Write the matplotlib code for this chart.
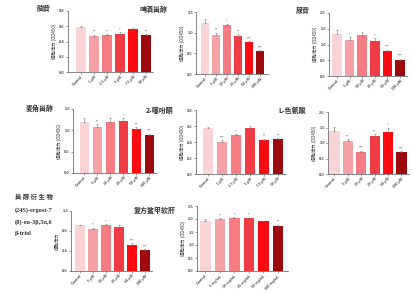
import matplotlib
matplotlib.use("Agg")
import matplotlib.pyplot as plt

plt.rcParams['font.family'] = ['Liberation Sans', 'Noto Sans CJK SC', 'DejaVu Sans']

W, H = 414, 294

# ---------------- data ----------------
cats_a = ["Control", "1 μM", "2.5 μM", "5 μM", "7.5 μM", "10 μM"]
cats_b = ["Control", "5 μM", "10 μM", "25 μM", "50 μM", "100 μM"]
cats_c = ["Control", "5 mg/mL", "10 mg/mL", "25 mg/mL", "50 mg/mL", "100 mg/mL"]

titles = ["脑苷", "啤酒甾醇", "尿苷", "麦角甾醇", "2-噻吩酮", "L-色氨酸",
          "", "复方鳖甲软肝"]

v1 = [0.59, 0.47, 0.48, 0.50, 0.57, 0.48]
v2 = [1.24, 0.95, 1.18, 0.92, 0.77, 0.55]
v3 = [1.32, 1.15, 1.31, 1.12, 0.80, 0.52]
v4 = [1.20, 1.08, 1.20, 1.21, 1.03, 0.88]
v5 = [0.58, 0.40, 0.49, 0.58, 0.43, 0.44]
v6 = [1.38, 1.07, 0.70, 1.22, 1.37, 0.70]
v7 = [0.92, 0.85, 0.93, 0.88, 0.53, 0.42]
v8 = [1.93, 2.00, 2.05, 2.02, 1.93, 1.72]

e1 = [0.01, 0.02, 0.02, 0.02, 0.01, 0.02]
e2 = [0.10, 0.05, 0.04, 0.05, 0.03, 0.03]
e3 = [0.15, 0.08, 0.10, 0.08, 0.04, 0.03]
e4 = [0.10, 0.06, 0.10, 0.08, 0.05, 0.04]
e5 = [0.01, 0.02, 0.01, 0.02, 0.01, 0.01]
e6 = [0.15, 0.06, 0.05, 0.06, 0.12, 0.03]
e7 = [0.01, 0.02, 0.01, 0.05, 0.03, 0.02]
e8 = [0.07, 0.03, 0.02, 0.03, 0.01, 0.06]

s1 = ["", "**", "*", "*", "", "**"]
s2 = ["", "**", "*", "**", "***", "***"]
s3 = ["", "*", "", "*", "***", "***"]
s4 = ["", "**", "", "*", "**", "***"]
s5 = ["", "***", "*", "", "**", "**"]
s6 = ["", "**", "***", "**", "*", "***"]
s7 = ["", "*", "*", "", "***", "***"]
s8 = ["", "*", "*", "*", "", "**"]

yticks1 = [0.0, 0.2, 0.4, 0.6, 0.8]
yticks2 = [0.0, 0.5, 1.0, 1.5]
yticks3 = [0.0, 0.5, 1.0, 1.5, 2.0]
yticks7 = [0.0, 0.4, 0.8, 1.2]
yticks8 = [0.0, 0.5, 1.0, 1.5, 2.0, 2.5]

ylabel_full = "细胞活力 (OD450)"
ylabel_short = "细胞活力"

colors = ["#fad3d6", "#f6a1a5", "#f47c82", "#f03c45", "#fb0a12", "#9c0a0e"]

panels = [
    (cats_a, v1, e1, s1, yticks1, ylabel_full),
    (cats_b, v2, e2, s2, yticks2, ylabel_full),
    (cats_b, v3, e3, s3, yticks3, ylabel_full),
    (cats_b, v4, e4, s4, yticks2, ylabel_full),
    (cats_a, v5, e5, s5, yticks1, ylabel_full),
    (cats_b, v6, e6, s6, yticks3, ylabel_full),
    (cats_b, v7, e7, s7, yticks7, ylabel_short),
    (cats_c, v8, e8, s8, yticks8, ylabel_full),
]

# layout in pixels: left, top, right, bottom, first bar centre, slot
layout = [
    (68, 11, 153, 72, 81, 13),
    (196, 12, 268, 74, 205, 11),
    (329, 13, 407, 76, 337, 12.6),
    (73, 109, 156, 173, 84.5, 13),
    (196, 110, 286, 174, 208, 14),
    (328, 112, 409, 174, 334.5, 13.4),
    (71, 211, 152, 271, 80, 13),
    (197, 206, 288, 271, 205.5, 14.5),
]
title_pos = [(44, 8), (154, 9), (303, 11), (40, 108), (160, 110), (292, 110),
             None, (155, 210)]

fig = plt.figure(figsize=(W / 100, H / 100), dpi=100)
fig.patch.set_facecolor("white")

cjk = ['Noto Sans CJK SC', 'DejaVu Sans']
for (cats, vals, errs, stars, yt, ylab), (l, t, r, b, fc, slot), tp, title in zip(
        panels, layout, title_pos, titles):
    ax = fig.add_axes([l / W, 1 - b / H, (r - l) / W, (b - t) / H])
    x = list(range(len(cats)))
    ax.bar(x, vals, width=0.75, color=colors, zorder=2)
    ax.errorbar(x, vals, yerr=[[0] * len(errs), errs], fmt='none',
                ecolor='#777777', elinewidth=0.4, capsize=0.8, capthick=0.4, zorder=3)
    top = yt[-1]
    for xi, v, e, s in zip(x, vals, errs, stars):
        if s:
            ax.text(xi, v + e + top * 0.01, s, ha='center', va='bottom',
                    fontsize=2.8, color='#555555')
    ax.set_xlim(-(fc - l) / slot, (r - fc) / slot)
    ax.set_ylim(0, top)
    ax.set_yticks(yt)
    ax.set_yticklabels([f"{v:.1f}" for v in yt], fontsize=2.9, fontweight='bold',
                       color='#444444')
    ax.set_xticks(x)
    ax.set_xticklabels(cats, rotation=45, ha='right', rotation_mode='anchor',
                       fontsize=2.7, fontweight='bold', color='#444444',
                       family=['Liberation Sans', 'DejaVu Sans'])
    for sp in ['top', 'right']:
        ax.spines[sp].set_visible(False)
    for sp in ['left', 'bottom']:
        ax.spines[sp].set_linewidth(0.5)
        ax.spines[sp].set_color('#555555')
    ax.tick_params(length=1.2, width=0.4, pad=1, colors='#555555')
    ax.set_ylabel(ylab, fontsize=3.2, family=cjk, color='#333333', labelpad=1.5)
    if tp is not None:
        fig.text(tp[0] / W, 1 - tp[1] / H, title, ha='center', va='center',
                 fontsize=5.0, fontweight='bold', family=cjk, color='#333333')

# compound description block for panel 7
desc_lines = ["甾 醇 衍 生 物", "(24S)-ergost-7", "(8)-en-3β,5α,6", "β-triol"]
desc_y = [197, 210, 222, 233]
for line, yy in zip(desc_lines, desc_y):
    fig.text(15 / W, 1 - yy / H, line, ha='left', va='center', fontsize=4.5,
             fontweight='bold', family=['Liberation Serif', 'Noto Sans CJK SC', 'DejaVu Sans'],
             color='#333333')

fig.savefig("out.png", dpi=100, facecolor='white')
